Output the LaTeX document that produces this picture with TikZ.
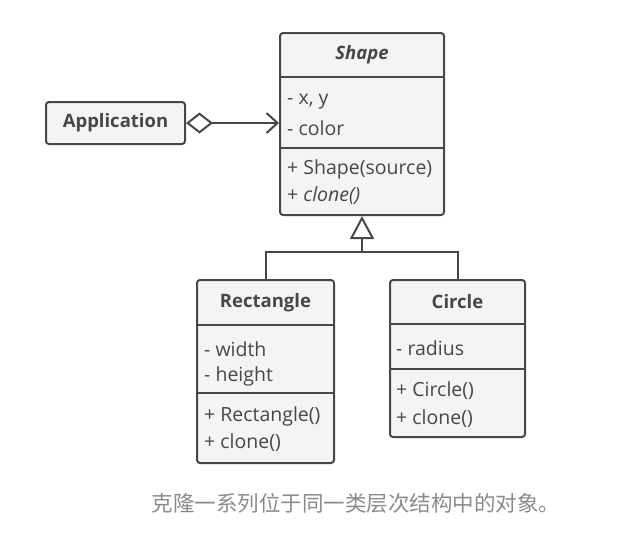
\documentclass[tikz,border=0pt]{standalone}
\usepackage{fontspec}
\setmainfont{Open Sans}
\newfontfamily\cjk{Noto Sans CJK SC}
\usetikzlibrary{arrows.meta}
\definecolor{umlline}{HTML}{474747}
\definecolor{umlfill}{HTML}{F4F4F4}
\definecolor{captiongray}{HTML}{8A8A8A}
\begin{document}
\begin{tikzpicture}[x=1pt,y=-1pt,
  classbox/.style={draw=umlline,fill=umlfill,line width=2pt,rounded corners=3pt,inner sep=0pt},
  title/.style={text=umlline,font=\fontsize{18.5}{22}\selectfont\bfseries,inner sep=0pt},
  member/.style={text=umlline,font=\fontsize{19.5}{22}\selectfont,anchor=west,inner sep=0pt},
  sep/.style={umlline,line width=2pt},
  link/.style={umlline,line width=2pt}]
  \useasboundingbox (0,0) rectangle (640,542);
  % class boxes
  \node[classbox,minimum width=164,minimum height=182] (shape) at (362,124) {};
  \node[classbox,minimum width=139,minimum height=42] (app) at (115.5,123) {};
  \node[classbox,minimum width=137,minimum height=183] (rect) at (265.5,371.5) {};
  \node[classbox,minimum width=135,minimum height=157] (circ) at (457.5,358.5) {};
  % dividers
  \draw[sep] (280,77) -- (444,77);
  \draw[sep] (280,148) -- (444,148);
  \draw[sep] (197,325) -- (334,325);
  \draw[sep] (197,393) -- (334,393);
  \draw[sep] (390,324) -- (525,324);
  \draw[sep] (390,369) -- (525,369);
  % texts
  \node[title] (appname) at (app) {Application};
  \node[title] (shapename) at (362,55) {\itshape Shape};
  \node[member] (sxy) at (287,102) {- x, y};
  \node[member] (scolor) at (287,128) {- color};
  \node[member] (sctor) at (287,169) {+ Shape(source)};
  \node[member] (sclone) at (287,196) {+ \textit{clone()}};
  \node[title] (rectname) at (265.5,303) {Rectangle};
  \node[member] (rwidth) at (204,349) {- width};
  \node[member] (rheight) at (204,376) {- height};
  \node[member] (rctor) at (204,416) {+ Rectangle()};
  \node[member] (rclone) at (204,443) {+ clone()};
  \node[title] (circname) at (457.5,302) {Circle};
  \node[member] (cradius) at (396,348) {- radius};
  \node[member] (cctor) at (396,391) {+ Circle()};
  \node[member] (cclone) at (396,419) {+ clone()};
  % connectors
  \draw[link,{Diamond[open,length=27,width=21,line width=2pt]}-{Straight Barb[length=11,width=20,line width=2pt]}] (app.east) -- (shape.west |- app.east);
  \coordinate (fork) at (362,252);
  \draw[link,-{Triangle[open,length=23,width=24,line width=2pt]}] (fork) -- (shape.south);
  \draw[link] (rect.north) |- (fork) -| (circ.north);
  % caption
  \node[text=captiongray,font=\cjk\fontsize{21.5}{24}\selectfont] (caption) at (356,503) {克隆一系列位于同一类层次结构中的对象。};
\end{tikzpicture}
\end{document}
